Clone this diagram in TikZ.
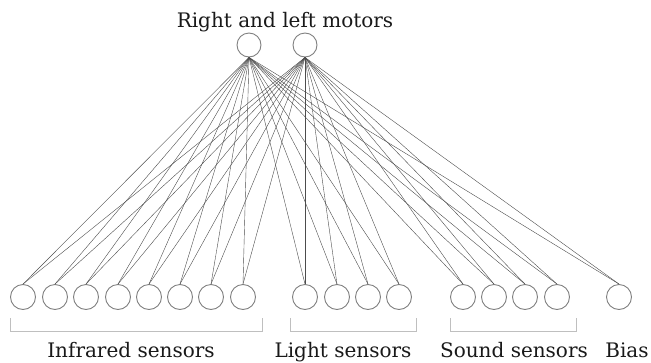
\documentclass[tikz,border=0pt]{standalone}
\usepackage{fontspec}
\setmainfont{DejaVu Serif}
\begin{document}
\begin{tikzpicture}[x=1pt,y=-1pt,
  neuron/.style={circle,draw=black!50,line width=0.9pt,minimum size=25pt,inner sep=0pt},
  weight/.style={draw=black!70,line width=0.4pt},
  groupbrace/.style={draw=black!25,line width=0.9pt},
  labeltext/.style={font=\fontsize{20}{23}\selectfont,anchor=base,inner sep=0pt,text=black!90}]
  \useasboundingbox (0,0) rectangle (651,362);

  % output layer
  \node[neuron,minimum size=24pt] (m1) at (249,45) {};
  \node[neuron,minimum size=24pt] (m2) at (305,45) {};
  \node[labeltext] (title) at (285,27) {Right and left motors};

  % input layer
  \foreach \x [count=\i] in {23,55,86,118,149,180,211,243,305,337,368,399,463,494,525,557,619}
    \node[neuron] (s\i) at (\x,297) {};

  % full connections
  \foreach \i in {1,...,17} {
    \draw[weight] (m1.south) -- (s\i.north);
    \draw[weight] (m2.south) -- (s\i.north);
  }

  % group brackets
  \coordinate (a1) at (10,318); \coordinate (a2) at (262,318);
  \coordinate (b1) at (290,318); \coordinate (b2) at (416,318);
  \coordinate (c1) at (450,318); \coordinate (c2) at (576,318);
  \draw[groupbrace] (a1) -- ++(0,13) -| (a2);
  \draw[groupbrace] (b1) -- ++(0,13) -| (b2);
  \draw[groupbrace] (c1) -- ++(0,13) -| (c2);

  \node[labeltext] (lir) at (131,357) {Infrared sensors};
  \node[labeltext] (llt) at (343,357) {Light sensors};
  \node[labeltext] (lsd) at (514,357) {Sound sensors};
  \node[labeltext] (lbs) at (627,357) {Bias};
\end{tikzpicture}
\end{document}
